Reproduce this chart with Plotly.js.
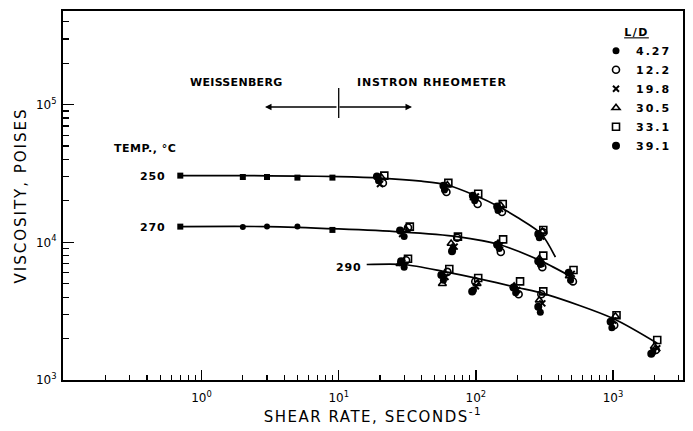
<!DOCTYPE html>
<html>
<head>
<meta charset="utf-8">
<script src="https://cdn.plot.ly/plotly-3.0.1.min.js"></script>
<style>html,body{margin:0;padding:0;background:#fff;}#chart{width:693px;height:431px;}</style>
</head>
<body>
<div id="chart"></div>
<script>
// ---- Weissenberg rheometer (low shear) points ----
const weisShear = [0.7, 2, 3, 5, 9];
const weis250 = [30500, 29800, 29800, 29500, 29500];
const weis270 = [13000, 12900, 13000, 13000, 12300];

// ---- Instron rheometer points, one pair of arrays per L/D ----
// order: 250 C (20,60,100,150,300), 270 C (30,70,150,300,500), 290 C (30,60,100,200,300,1000,2000)
const ld427x = [19.5, 59, 98, 145, 290, 30, 68, 148, 295, 490, 30, 58, 96, 195, 295, 980, 1950];
const ld427y = [28000, 24000, 20000, 17000, 10800, 11000, 9000, 9000, 6900, 5300, 6600, 5300, 4500, 4300, 3100, 2400, 1600];
const ld122x = [21, 61, 103, 155, 310, 32, 73, 152, 305, 510, 31, 62, 99, 205, 300, 1020, 2050];
const ld122y = [27000, 23200, 19000, 16600, 11800, 12800, 10800, 8500, 6600, 5200, 7400, 6100, 5200, 4200, 4200, 2500, 1650];
const ld198x = [20, 60, 100, 150, 300, 29, 70, 150, 300, 500, 29, 60, 100, 200, 305, 1000, 2100];
const ld198y = [26500, 25000, 21500, 17500, 11000, 11500, 9300, 9500, 7000, 5900, 7100, 5600, 4800, 4500, 3600, 2700, 1700];
const ld305x = [20.5, 62, 97, 152, 305, 31, 66, 145, 290, 480, 28, 57, 102, 190, 290, 1040, 2000];
const ld305y = [29500, 26000, 21000, 18500, 12000, 12300, 9800, 9800, 7600, 5700, 7000, 5000, 5000, 4800, 3800, 2900, 1750];
const ld331x = [21.5, 63, 104, 157, 310, 33, 74, 158, 310, 515, 32, 64, 104, 210, 310, 1060, 2100];
const ld331y = [30500, 27000, 22500, 19000, 12300, 13000, 11000, 10500, 8000, 6300, 7600, 6400, 5500, 5200, 4400, 2950, 1950];
const ld391x = [19, 58, 95, 143, 285, 28, 67, 143, 285, 475, 28.5, 56, 94, 188, 285, 960, 1900];
const ld391y = [30000, 25800, 21800, 18200, 11500, 12200, 8600, 9600, 7300, 6000, 7300, 5800, 4400, 4700, 3400, 2650, 1550];

// ---- hand-drawn fitted curves ----
const curve250x = [0.7, 2, 5, 10, 20, 40, 60, 100, 150, 200, 300, 380];
const curve250y = [30500, 30500, 30300, 30000, 29300, 27800, 26300, 21800, 18000, 15200, 11500, 7800];
const curve270x = [0.7, 3, 10, 28, 73, 150, 300, 500];
const curve270y = [13000, 13000, 12500, 11900, 11000, 9600, 7300, 5600];
const curve290x = [16, 30, 60, 100, 200, 330, 1000, 2100];
const curve290y = [6900, 6900, 6100, 5500, 4700, 4170, 2800, 1850];

// ---- labels ----
const ldNames = ['4.27', '12.2', '19.8', '30.5', '33.1', '39.1'];
const xTickVals = [1, 10, 100, 1000];
const xTickText = ['10<sup>0</sup>', '10<sup>1</sup>', '10<sup>2</sup>', '10<sup>3</sup>'];
const yTickVals = [1000, 10000, 100000];
const yTickText = ['10<sup>3</sup>', '10<sup>4</sup>', '10<sup>5</sup>'];
const tempLabels = ['250', '270', '290'];

// minor tick positions (axis decoration)
function minors(lo, hi) {
  const out = [];
  for (let e = lo; e <= hi; e++) for (let m = 2; m <= 9; m++) out.push(m * Math.pow(10, e));
  return out;
}
function spaced(t, s) { return '<span style="letter-spacing:' + s + 'px">' + t + '</span>'; }

const lineStyle = {color: '#000', width: 1.7, shape: 'spline', smoothing: 0.8};
const traces = [
  {x: curve250x, y: curve250y, mode: 'lines', line: lineStyle, showlegend: false, hoverinfo: 'skip'},
  {x: curve270x, y: curve270y, mode: 'lines', line: lineStyle, showlegend: false, hoverinfo: 'skip'},
  {x: curve290x, y: curve290y, mode: 'lines', line: lineStyle, showlegend: false, hoverinfo: 'skip'},
  {x: weisShear, y: weis250, mode: 'markers', showlegend: false,
   marker: {symbol: 'square', size: 6, color: '#000'}},
  {x: weisShear, y: weis270, mode: 'markers', showlegend: false,
   marker: {symbol: ['square', 'circle', 'circle', 'circle', 'square'], size: 6, color: '#000'}},
];

const ldX = [ld427x, ld122x, ld198x, ld305x, ld331x, ld391x];
const ldY = [ld427y, ld122y, ld198y, ld305y, ld331y, ld391y];
const ldMarkers = [
  {symbol: 'circle', size: 7, color: '#000', line: {width: 0}},
  {symbol: 'circle-open', size: 7, color: '#000', line: {width: 1.6}},
  {symbol: 'x-thin-open', size: 6, color: '#000', line: {width: 2}},
  {symbol: 'triangle-up-open', size: 7, color: '#000', line: {width: 1.6}},
  {symbol: 'square-open', size: 7, color: '#000', line: {width: 1.6}},
  {symbol: 'circle', size: 8, color: '#000', line: {width: 0}},
];
const order = [0, 5, 2, 1, 3, 4];
const legendRank = [1, 2, 3, 4, 5, 6];
order.forEach(i => {
  traces.push({x: ldX[i], y: ldY[i], mode: 'markers', name: spaced(ldNames[i], 2),
    legendrank: legendRank[i], marker: ldMarkers[i]});
});

const F = 'DejaVu Sans';
function px(v) { return (v - 63) / 620; }
function py(v) { return (380 - v) / 369; }
const lab = {family: F, size: 11, color: '#000', weight: 'bold'};
const ttl = {family: F, size: 15, color: '#000'};

const layout = {
  width: 693, height: 431,
  margin: {l: 63, r: 10, t: 11, b: 51},
  paper_bgcolor: '#fff', plot_bgcolor: '#fff',
  font: {family: F, color: '#000'},
  showlegend: true,
  legend: {x: px(596), y: py(22), xanchor: 'left', yanchor: 'top', bgcolor: 'rgba(0,0,0,0)',
    font: {family: F, size: 11, weight: 'bold', color: '#000'}, tracegroupgap: 0,
    title: {text: '<u>' + spaced('L/D', 1.5) + '</u>', side: 'top center', font: {family: F, size: 11, weight: 'bold'}}},
  xaxis: {type: 'log', range: [-1.01, 3.51], tickmode: 'array', tickvals: xTickVals, ticktext: xTickText,
    ticks: 'inside', ticklen: 10, tickwidth: 1.5, tickcolor: '#000', showline: true, linewidth: 2,
    linecolor: '#000', mirror: true, showgrid: false, zeroline: false, ticklabelstandoff: 6,
    tickfont: {family: F, size: 12, color: '#000'},
    minor: {tickmode: 'array', tickvals: minors(-1, 3), ticks: 'inside', ticklen: 5, tickwidth: 1.2, tickcolor: '#000', showgrid: false},
    title: {text: spaced('SHEAR RATE, SECONDS<sup>-1</sup>', 1.5), font: ttl, standoff: 4}},
  yaxis: {type: 'log', range: [3, 5.68], tickmode: 'array', tickvals: yTickVals, ticktext: yTickText,
    ticks: 'inside', ticklen: 11, tickwidth: 1.5, tickcolor: '#000', showline: true, linewidth: 2,
    linecolor: '#000', mirror: true, showgrid: false, zeroline: false, ticklabelstandoff: 2,
    tickfont: {family: F, size: 12, color: '#000'},
    minor: {tickmode: 'array', tickvals: minors(3, 5), ticks: 'inside', ticklen: 6, tickwidth: 1.2, tickcolor: '#000', showgrid: false},
    title: {text: spaced('VISCOSITY, POISES', 2), font: ttl, standoff: 6}},
  shapes: [
    {type: 'line', xref: 'x', x0: 10, x1: 10, yref: 'paper', y0: py(88), y1: py(118), line: {color: '#000', width: 1.3}}
  ],
  annotations: [
    {xref: 'paper', yref: 'paper', x: px(285), y: py(82), xanchor: 'right', yanchor: 'middle', text: spaced('WEISSENBERG', 0.3), showarrow: false, font: lab},
    {xref: 'paper', yref: 'paper', x: px(355), y: py(82), xanchor: 'left', yanchor: 'middle', text: spaced('INSTRON RHEOMETER', 0.8), showarrow: false, font: lab},
    {xref: 'paper', yref: 'paper', x: px(265), y: py(107), ax: 73, ay: 0, text: '', showarrow: true, arrowhead: 2, arrowsize: 1, arrowwidth: 1.3, arrowcolor: '#000'},
    {xref: 'paper', yref: 'paper', x: px(412), y: py(107), ax: -74, ay: 0, text: '', showarrow: true, arrowhead: 2, arrowsize: 1, arrowwidth: 1.3, arrowcolor: '#000'},
    {xref: 'paper', yref: 'paper', x: px(112), y: py(148), xanchor: 'left', yanchor: 'middle', text: spaced('TEMP., °C', 0.5), showarrow: false, font: lab},
    {xref: 'paper', yref: 'paper', x: px(167), y: py(176), xanchor: 'right', yanchor: 'middle', text: spaced(tempLabels[0], 0.8), showarrow: false, font: lab},
    {xref: 'paper', yref: 'paper', x: px(167), y: py(227), xanchor: 'right', yanchor: 'middle', text: spaced(tempLabels[1], 0.8), showarrow: false, font: lab},
    {xref: 'paper', yref: 'paper', x: px(363), y: py(267), xanchor: 'right', yanchor: 'middle', text: spaced(tempLabels[2], 0.8), showarrow: false, font: lab}
  ]
};

Plotly.newPlot('chart', traces, layout, {staticPlot: true, displayModeBar: false});
</script>
</body>
</html>
